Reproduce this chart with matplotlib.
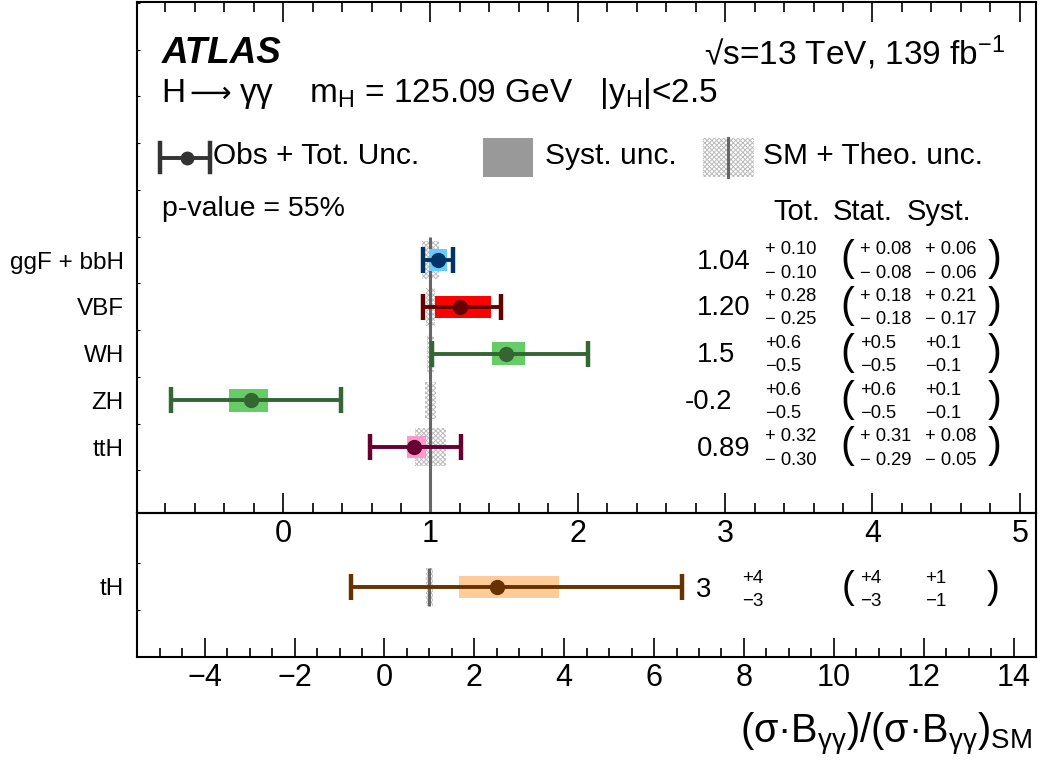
import matplotlib

matplotlib.use("Agg")
import matplotlib.pyplot as plt
import numpy as np
from matplotlib.patches import Rectangle
from matplotlib.ticker import FixedLocator, MultipleLocator

plt.rcParams["font.family"] = ["Liberation Sans", "DejaVu Sans"]
plt.rcParams["mathtext.fontset"] = "custom"
plt.rcParams["mathtext.rm"] = "Liberation Sans"
plt.rcParams["mathtext.it"] = "Liberation Sans:italic"
plt.rcParams["mathtext.bf"] = "Liberation Sans:bold"
plt.rcParams["hatch.linewidth"] = 0.7

# ---- data ----
processes = ["ggF + bbH", "VBF", "WH", "ZH", "ttH"]
mu = [1.05, 1.20, 1.51, -0.22, 0.89]
tot_up = [0.10, 0.28, 0.56, 0.61, 0.32]
tot_dn = [0.10, 0.25, 0.50, 0.54, 0.30]
syst_up = [0.06, 0.21, 0.13, 0.12, 0.08]
syst_dn = [0.06, 0.17, 0.09, 0.15, 0.05]
theo = [0.06, 0.03, 0.025, 0.04, 0.105]
bar_colors = ["#003366", "#660000", "#336633", "#336633", "#660033"]
box_colors = ["#66ccff", "#ff0000", "#66cc66", "#66cc66", "#ff99cc"]

mu_txt = ["1.04", "1.20", "1.5", "-0.2", "0.89"]
tot_up_txt = ["+ 0.10", "+ 0.28", "+0.6", "+0.6", "+ 0.32"]
tot_dn_txt = ["\u2212 0.10", "\u2212 0.25", "\u22120.5", "\u22120.5", "\u2212 0.30"]
stat_up_txt = ["+ 0.08", "+ 0.18", "+0.5", "+0.6", "+ 0.31"]
stat_dn_txt = ["\u2212 0.08", "\u2212 0.18", "\u22120.5", "\u22120.5", "\u2212 0.29"]
syst_up_txt = ["+ 0.06", "+ 0.21", "+0.1", "+0.1", "+ 0.08"]
syst_dn_txt = ["\u2212 0.06", "\u2212 0.17", "\u22120.1", "\u22120.1", "\u2212 0.05"]

# tH (lower panel, wider scale)
th_label = "tH"
th_mu = 2.51
th_tot_up, th_tot_dn = 4.12, 3.25
th_syst_up, th_syst_dn = 1.37, 0.86
th_theo = 0.07
th_txt = ["3", "+4", "\u22123", "+4", "\u22123", "+1", "\u22121"]

W, H = 1043, 766
fig = plt.figure(figsize=(W / 100, H / 100), dpi=100)
L, R = 137.3, 1036.0
ax = fig.add_axes([L / W, 1 - 513 / H, (R - L) / W, (513 - 2) / H])
axb = fig.add_axes([L / W, 1 - 657 / H, (R - L) / W, (657 - 513) / H])
ax.set_zorder(3)
axb.set_zorder(2)
ax.patch.set_alpha(0)

eb_style = dict(fmt="o", ms=10, elinewidth=2.8, capsize=9.7, capthick=3.2, zorder=4)

# ---- top panel ----
rows = np.arange(len(processes))
ax.set_xlim(-0.99, 5.11)
ax.set_ylim(5.41, -5.52)
ax.barh(rows, [2 * t for t in theo], left=[1 - t for t in theo], height=0.8,
        facecolor="none", edgecolor="#bcbcbc", hatch="xxxxxxx", linewidth=0, zorder=1)
ax.vlines(1, -0.5, 5.41, color="#666666", lw=2.2, zorder=2)
ax.barh(rows, np.add(syst_up, syst_dn), left=np.subtract(mu, syst_dn), height=0.48,
        color=box_colors, linewidth=0, zorder=3)
for i in rows:
    ax.errorbar(mu[i], i, xerr=[[tot_dn[i]], [tot_up[i]]], color=bar_colors[i], **eb_style)

ax.xaxis.set_major_locator(MultipleLocator(1))
ax.xaxis.set_minor_locator(MultipleLocator(0.2))
ax.tick_params(axis="x", which="both", direction="in", top=True, bottom=True,
               labelsize=22, pad=4.5, width=1.2)
ax.tick_params(axis="x", which="major", length=14.4)
ax.tick_params(axis="x", which="minor", length=7.2)
ax.set_yticks(rows, processes)
ax.yaxis.set_minor_locator(FixedLocator(np.arange(-5.5, 5.6, 1.0)))
ax.tick_params(axis="y", which="major", length=0, labelsize=17.5, pad=9.6)
ax.tick_params(axis="y", which="minor", direction="in", length=2.2, width=0.8)

# ---- bottom panel ----
axb.set_xlim(-5.5, 14.5)
axb.set_ylim(1.5, -1.58)
axb.barh([0], [2 * th_theo], left=[1 - th_theo], height=0.8, facecolor="none",
         edgecolor="#bcbcbc", hatch="xxxxxxx", linewidth=0, zorder=1)
axb.vlines(1, -0.4, 0.4, color="#666666", lw=2.2, zorder=2)
axb.barh([0], [th_syst_up + th_syst_dn], left=[th_mu - th_syst_dn], height=0.48,
         color="#ffcc99", linewidth=0, zorder=3)
axb.errorbar(th_mu, 0, xerr=[[th_tot_dn], [th_tot_up]], color="#663300", **eb_style)
axb.xaxis.set_major_locator(MultipleLocator(2))
axb.xaxis.set_minor_locator(MultipleLocator(0.5))
axb.tick_params(axis="x", which="both", direction="in", top=False, bottom=True,
                labelsize=22, pad=4.5, width=1.2)
axb.tick_params(axis="x", which="major", length=13.7)
axb.tick_params(axis="x", which="minor", length=6.5)
axb.set_yticks([0], [th_label])
axb.yaxis.set_minor_locator(FixedLocator([-0.5, 0.5]))
axb.tick_params(axis="y", which="major", length=0, labelsize=17.5, pad=9.6)
axb.tick_params(axis="y", which="minor", direction="in", length=2.2, width=0.8)

for a in (ax, axb):
    for sp in a.spines.values():
        sp.set_linewidth(1.5)

# ---- overlay in pixel coordinates for labels / legend / numbers ----
ov = fig.add_axes([0, 0, 1, 1])
ov.set_xlim(0, W)
ov.set_ylim(H, 0)
ov.axis("off")
ov.patch.set_visible(False)
ov.set_zorder(5)


def row_px(a, y):
    return H - a.transData.transform((0, y))[1]


ov.text(161.7, 63, "ATLAS", fontsize=26.5, fontweight="bold", style="italic", va="baseline")
ov.text(1005, 65, "\u221as=13 TeV, 139 fb$^{\\mathregular{-1}}$", fontsize=24,
        ha="right", va="baseline")
ov.text(161.7, 101.7, "H", fontsize=24, va="baseline")
ov.text(189, 101.7, "\u27f6", fontsize=21, va="baseline", family=["DejaVu Sans"])
ov.text(239, 101.7,
        "\u03b3\u03b3    m$_{\\mathregular{H}}$ = 125.09 GeV   |y$_{\\mathregular{H}}$|<2.5",
        fontsize=24, va="baseline")

# legend
ov.plot([160, 210], [157.5, 157.5], color="#333333", lw=2.8)
ov.plot([160, 160], [143, 172], color="#333333", lw=3.2)
ov.plot([210, 210], [143, 172], color="#333333", lw=3.2)
ov.plot([187], [157.5], "o", color="#333333", ms=9)
ov.text(213, 164, "Obs + Tot. Unc.", fontsize=21.5, va="baseline")
ov.add_patch(Rectangle((482.7, 138), 50, 39, color="#999999", lw=0))
ov.text(545, 164, "Syst. unc.", fontsize=21.5, va="baseline")
ov.add_patch(Rectangle((703.3, 137.7), 50.7, 39, facecolor="none", edgecolor="#bcbcbc",
                       hatch="xxxxxxx", lw=0))
ov.plot([728, 728], [137.7, 176.7], color="#666666", lw=2.2)
ov.text(763, 164, "SM + Theo. unc.", fontsize=21.5, va="baseline")

ov.text(161.7, 216.5, "p-value = 55%", fontsize=20.5, va="baseline")
for xc, s in zip([797, 862.5, 939], ["Tot.", "Stat.", "Syst."]):
    ov.text(xc, 220, s, fontsize=21, ha="center", va="baseline")

X_MU, X_TOT, X_LP, X_STAT, X_SYST, X_RP = 697, 765, 840, 860, 925, 988
for i in rows:
    yc = row_px(ax, i)
    xm = X_MU - 12 if mu_txt[i].startswith("-") else X_MU
    ov.text(xm, yc + 8.6, mu_txt[i], fontsize=19.8, va="baseline")
    ov.text(X_TOT, yc - 5.7, tot_up_txt[i], fontsize=13.2, va="baseline")
    ov.text(X_TOT, yc + 17.6, tot_dn_txt[i], fontsize=13.2, va="baseline")
    ov.text(X_LP, yc + 10.3, "(", fontsize=30, va="baseline")
    ov.text(X_STAT, yc - 5.7, stat_up_txt[i], fontsize=13.2, va="baseline")
    ov.text(X_STAT, yc + 17.6, stat_dn_txt[i], fontsize=13.2, va="baseline")
    ov.text(X_SYST, yc - 5.7, syst_up_txt[i], fontsize=13.2, va="baseline")
    ov.text(X_SYST, yc + 17.6, syst_dn_txt[i], fontsize=13.2, va="baseline")
    ov.text(X_RP, yc + 10.3, ")", fontsize=30, va="baseline")

yc = row_px(axb, 0)
ov.text(696, yc + 9.7, th_txt[0], fontsize=19.8, va="baseline")
ov.text(742, yc - 3.7, th_txt[1], fontsize=13.5, va="baseline")
ov.text(742, yc + 19, th_txt[2], fontsize=13.5, va="baseline")
ov.text(842, yc + 11, "(", fontsize=28, va="baseline")
ov.text(860, yc - 3.7, th_txt[3], fontsize=13.5, va="baseline")
ov.text(860, yc + 19, th_txt[4], fontsize=13.5, va="baseline")
ov.text(925, yc - 3.7, th_txt[5], fontsize=13.5, va="baseline")
ov.text(925, yc + 19, th_txt[6], fontsize=13.5, va="baseline")
ov.text(987, yc + 11, ")", fontsize=28, va="baseline")

ov.text(1032, 743,
        "(\u03c3\u00b7B$_{\\mathregular{\u03b3\u03b3}}$)/(\u03c3\u00b7B$_{\\mathregular{\u03b3\u03b3}}$)$_{\\mathregular{SM}}$",
        fontsize=28.5, ha="right", va="baseline")

fig.savefig("out.png", dpi=100)
